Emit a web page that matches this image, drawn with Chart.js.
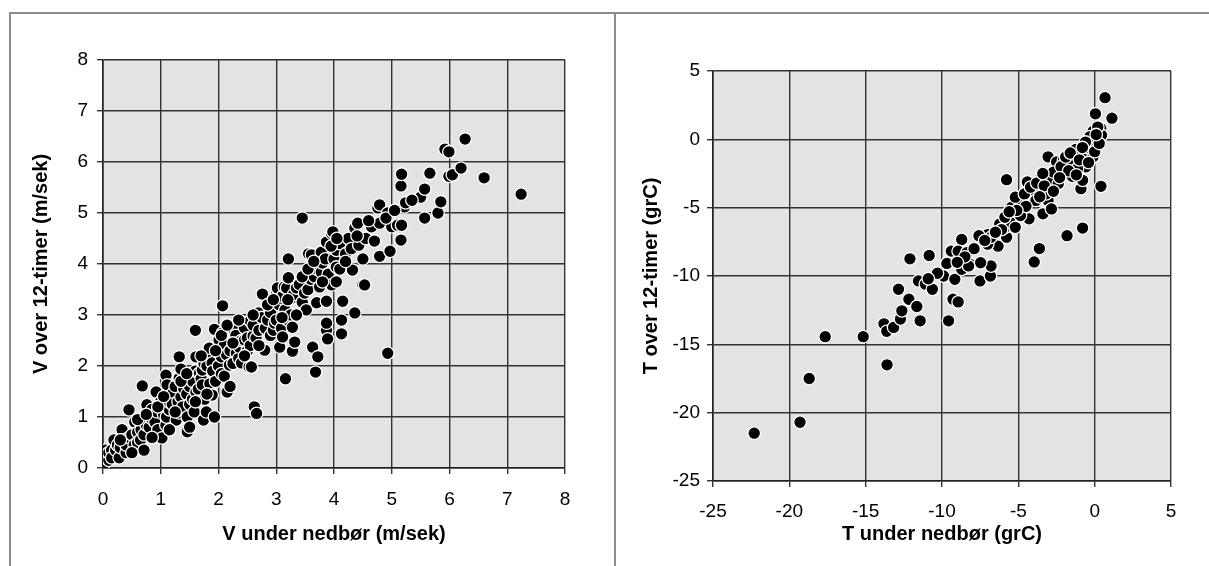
<!DOCTYPE html>
<html>
<head>
<meta charset="utf-8">
<script src="https://cdn.jsdelivr.net/npm/chart.js@4/dist/chart.umd.min.js"></script>
<style>
  html, body { margin: 0; padding: 0; background: #fff; }
  #wrap { position: relative; width: 1209px; height: 566px; overflow: hidden; }
  canvas { position: absolute; top: 0; }
  #left { left: 0; }
  #right { left: 615px; }
  .frame { position: absolute; background: #8c8c8c; }
</style>
</head>
<body>
<div id="wrap">
  <canvas id="left" width="615" height="566"></canvas>
  <canvas id="right" width="594" height="566"></canvas>
  <div class="frame" style="left:9px; top:12px; width:1200px; height:2px;"></div>
  <div class="frame" style="left:9px; top:12px; width:2px; height:554px;"></div>
  <div class="frame" style="left:614px; top:12px; width:2px; height:554px;"></div>
</div>
<script>
// Wind speed (m/sek): during precipitation vs. over 12 hours
const windUnder = [
  0.00, 0.02, 0.05, 0.10, 0.10, 0.15, 0.15, 0.19, 0.22, 0.25,
  0.28, 0.30, 0.33, 0.36, 0.40, 0.40, 0.45, 0.45, 0.50, 0.54,
  0.55, 0.60, 0.60, 0.65, 0.66, 0.68, 0.71, 0.71, 0.75, 0.76,
  0.80, 0.83, 0.85, 0.90, 0.92, 0.94, 0.95, 1.00, 1.02, 1.05,
  1.09, 1.09, 1.10, 1.11, 1.15, 1.15, 1.20, 1.20, 1.25, 1.27,
  1.30, 1.32, 1.32, 1.32, 1.35, 1.35, 1.38, 1.40, 1.45, 1.46,
  1.46, 1.50, 1.50, 1.50, 1.55, 1.55, 1.58, 1.60, 1.61, 1.60,
  1.61, 1.65, 1.67, 1.70, 1.72, 1.72, 1.74, 1.75, 1.76, 1.79,
  1.80, 1.84, 1.84, 1.85, 1.89, 1.89, 1.90, 1.93, 1.93, 1.95,
  2.00, 2.00, 2.01, 2.05, 2.05, 2.07, 2.07, 2.10, 2.10, 2.14,
  2.15, 2.19, 2.20, 2.20, 2.25, 2.26, 2.29, 2.30, 2.31, 2.35,
  2.36, 2.40, 2.40, 2.45, 2.45, 2.50, 2.50, 2.53, 2.55, 2.55,
  2.57, 2.60, 2.60, 2.62, 2.65, 2.66, 2.69, 2.70, 2.75, 2.76,
  2.80, 2.81, 2.85, 2.90, 2.90, 2.95, 2.97, 3.00, 3.00, 3.02,
  3.05, 3.06, 3.06, 3.09, 3.09, 3.11, 3.11, 3.14, 3.15, 3.16,
  3.18, 3.20, 3.21, 3.21, 3.25, 3.26, 3.28, 3.28, 3.30, 3.32,
  3.35, 3.40, 3.45, 3.45, 3.49, 3.52, 3.55, 3.56, 3.60, 3.61,
  3.61, 3.63, 3.63, 3.66, 3.68, 3.70, 3.70, 3.72, 3.75, 3.78,
  3.78, 3.80, 3.85, 3.87, 3.87, 3.87, 3.87, 3.89, 3.90, 3.96,
  3.96, 3.98, 4.00, 4.04, 4.04, 4.04, 4.10, 4.10, 4.13, 4.13,
  4.15, 4.20, 4.25, 4.30, 4.32, 4.36, 4.36, 4.41, 4.43, 4.50,
  4.53, 4.50, 4.55, 4.65, 4.76, 4.79, 4.79, 4.79, 4.93, 4.93,
  4.97, 5.00, 5.10, 5.16, 5.16, 5.17, 5.17, 5.22, 5.24, 5.50,
  5.57, 5.57, 5.66, 5.80, 5.85, 5.92, 5.99, 5.99, 6.05, 6.20,
  6.27, 6.60, 7.24,
  0.30, 0.50, 0.60, 0.75, 0.85, 0.95, 1.05, 1.15, 1.25, 1.35,
  1.45, 1.60, 1.70, 1.80, 1.95, 2.05, 2.15, 2.25, 2.35, 2.45,
  2.60, 2.70, 2.85, 2.95, 3.10, 3.20, 3.35, 3.45, 3.55, 3.65,
  3.80, 3.95, 4.05, 4.20, 4.40, 4.60, 4.70, 4.90, 5.05, 5.35
];
const windOver = [
  0.05, 0.25, 0.35, 0.15, 0.30, 0.35, 0.20, 0.55, 0.35, 0.45,
  0.20, 0.40, 0.75, 0.55, 0.30, 0.45, 0.60, 1.14, 0.65, 0.45,
  0.90, 0.70, 0.50, 0.55, 0.75, 1.61, 0.35, 0.65, 0.84, 1.24,
  0.80, 0.98, 1.15, 0.90, 1.49, 1.10, 0.75, 1.30, 0.59, 1.05,
  0.84, 1.82, 1.00, 1.63, 1.14, 1.29, 1.45, 1.25, 1.60, 0.94,
  1.30, 1.08, 1.76, 2.18, 1.39, 1.94, 1.20, 1.55, 1.45, 0.71,
  1.00, 1.25, 0.80, 1.60, 1.70, 1.35, 1.10, 1.90, 1.49, 2.70,
  2.18, 1.55, 1.86, 1.75, 1.63, 1.92, 0.94, 2.05, 1.35, 1.10,
  2.00, 2.22, 2.35, 1.65, 1.43, 2.06, 1.90, 1.00, 2.72, 1.70,
  2.30, 2.00, 2.51, 2.18, 1.85, 2.65, 3.18, 1.80, 2.40, 2.22,
  1.49, 2.02, 1.60, 2.30, 2.05, 2.72, 2.55, 2.60, 2.25, 2.15,
  2.37, 2.06, 2.50, 2.51, 2.75, 2.30, 2.55, 1.98, 2.88, 2.40,
  1.98, 2.59, 2.80, 1.20, 2.55, 1.07, 3.04, 2.70, 2.95, 3.41,
  2.31, 2.74, 2.90, 2.60, 3.05, 2.70, 2.84, 3.39, 2.90, 3.53,
  3.20, 2.41, 2.37, 2.74, 3.33, 2.57, 3.37, 3.55, 3.10, 1.75,
  3.53, 2.90, 3.73, 4.10, 3.00, 3.33, 2.29, 2.76, 3.40, 2.47,
  3.53, 3.60, 4.90, 3.25, 3.43, 3.10, 3.50, 4.20, 3.70, 3.96,
  4.18, 2.37, 3.98, 3.75, 1.88, 3.24, 3.90, 2.18, 3.55, 3.84,
  4.23, 4.02, 4.10, 2.70, 2.84, 3.27, 4.43, 2.53, 3.80, 3.59,
  4.60, 4.63, 4.10, 3.65, 3.94, 4.27, 3.90, 4.40, 2.63, 2.90,
  3.27, 4.20, 4.50, 4.30, 3.88, 3.04, 4.70, 4.80, 4.37, 3.59,
  3.59, 4.10, 4.50, 4.73, 5.10, 4.15, 4.80, 5.16, 2.25, 5.00,
  4.25, 4.73, 4.76, 4.47, 5.53, 4.76, 5.76, 5.12, 5.20, 5.31,
  4.90, 5.47, 5.78, 5.00, 5.22, 6.25, 6.20, 5.72, 5.75, 5.88,
  6.45, 5.69, 5.37,
  0.55, 0.30, 0.95, 1.05, 0.60, 1.20, 1.40, 0.75, 1.10, 1.70,
  1.85, 1.30, 2.20, 1.45, 2.30, 2.60, 2.80, 2.45, 2.90, 2.20,
  3.00, 2.40, 3.20, 3.30, 2.95, 3.30, 3.00, 3.75, 3.90, 4.05,
  3.65, 4.35, 4.50, 4.05, 4.55, 4.85, 4.45, 4.90, 5.05, 5.25
];

// Temperature (grC): during precipitation vs. over 12 hours
const tempUnder = [
  -22.3, -19.3, -18.7, -13.6, -17.65, -15.16, -13.8, -13.62, -13.17, -12.72,
  -12.63, -12.17, -11.65, -11.43, -12.85, -12.1, -10.84, -11.54, -11.09, -10.63,
  -9.9, -9.68, -9.16, -9.28, -8.94, -9.57, -8.71, -9.39, -8.94, -8.37,
  -8.14, -7.51, -6.83, -6.79, -7.47, -7.01, -6.33, -6.0,
  -8.71, -8.26, -7.58, -7.01, -6.79, -5.77, -5.88, -6.22, -5.54, -5.88,
  -5.2, -5.43, -4.86, -4.3, -4.86, -5.2, -4.41, -3.96, -3.85, -3.39,
  -3.05, -2.83, -3.17, -3.51, -2.94, -2.38, -2.04, -2.49, -3.05, -2.49,
  -2.04, -1.58, -1.47, -0.9, -0.79, -0.57, -1.13, -0.57, -1.24, -0.11,
  0.05, 1.13, 0.68, -5.77, 0.41, -0.79, -1.81, -3.62, -3.96,
  -0.2, 0.0, 0.2, 0.4, 0.3, -0.1, 0.1, -0.4, 0.45, 0.2,
  -0.3, 0.0, -0.6, 0.3, 0.1,
  -4.6, -4.2, -3.8, -3.3, -2.7, -2.2, -1.9, -1.6, -1.0, -0.8,
  -2.7, -3.6, -4.5, -5.1, -5.6, -6.1, -6.5, -7.2, -7.9, -8.5,
  -9.0, -10.3, -10.9, -1.7, -2.3, -3.4, -1.2, -0.4
];
const tempOver = [
  -21.5, -20.7, -17.5, -16.5, -14.44, -14.44, -13.5, -14.05, -13.76, -13.15,
  -12.55, -11.7, -12.23, -13.28, -10.97, -8.74, -8.5, -10.36, -10.6, -10.97,
  -10.0, -9.08, -10.24, -11.7, -11.9, -13.28, -7.33, -8.18, -8.18, -8.3,
  -9.15, -10.36, -10.0, -9.27, -9.03, -6.97, -7.82, -5.87,
  -9.51, -9.26, -7.05, -7.67, -7.17, -7.17, -6.44, -6.19, -6.07, -5.7,
  -6.44, -4.96, -4.72, -5.82, -5.58, -4.23, -3.12, -3.73, -4.47, -5.45,
  -4.47, -5.09, -3.98, -2.75, -2.95, -3.24, -2.63, -2.26, -1.28, -1.65,
  -1.52, -1.77, -2.7, -3.61, -3.0, -2.01, -2.14, -1.15, -0.74, -1.28,
  1.87, 1.55, 3.05, -2.95, -3.44, -6.49, -7.05, -7.99, -8.97,
  -0.3, 0.1, 0.5, 0.8, 0.2, 0.6, -0.5, -0.6, 0.3, 0.9,
  0.2, -0.9, -0.2, -0.3, 0.35,
  -4.0, -3.5, -3.2, -3.4, -2.4, -2.0, -1.3, -1.0, -1.5, -0.6,
  -3.8, -4.2, -4.9, -5.2, -5.3, -6.6, -6.8, -7.4, -8.0, -8.6,
  -9.0, -9.8, -10.2, -2.3, -2.8, -2.5, -2.6, -1.7
];

const windTicks = [0, 1, 2, 3, 4, 5, 6, 7, 8];
const tempTicks = [-25, -20, -15, -10, -5, 0, 5];

const FONT = "'Liberation Sans', Arial, sans-serif";

// grey plot area behind the grid
const plotFill = {
  id: 'plotFill',
  beforeDraw(chart) {
    const { ctx, chartArea: a } = chart;
    ctx.save();
    ctx.fillStyle = '#e3e3e3';
    ctx.fillRect(a.left, a.top, a.right - a.left, a.bottom - a.top);
    ctx.restore();
  }
};

function toPoints(xs, ys) {
  return xs.map((x, i) => ({ x: x, y: ys[i] }));
}

function makeChart(id, xs, ys, ticks, box) {
  const axis = (title, isX) => ({
    type: 'linear',
    min: ticks[0],
    max: ticks[ticks.length - 1],
    afterBuildTicks: s => { s.ticks = ticks.map(v => ({ value: v })); },
    afterFit: s => {
      if (isX) s.height = box.xHeight; else s.width = box.yWidth;
    },
    grid: { color: '#333', lineWidth: 1.4, tickLength: 6, drawTicks: true },
    border: { display: true, color: '#222', width: 1.6 },
    ticks: {
      color: '#000',
      font: { family: FONT, size: 19 },
      padding: isX ? box.xPad : box.yPad,
      maxRotation: 0
    },
    title: {
      display: true,
      text: title,
      color: '#000',
      font: { family: FONT, size: 20, weight: 'bold' },
      padding: isX ? { top: 0, bottom: box.xTitlePad } : { top: box.yTitlePad, bottom: 0 }
    }
  });

  return new Chart(document.getElementById(id), {
    type: 'scatter',
    data: {
      datasets: [{
        data: toPoints(xs, ys),
        backgroundColor: '#000',
        borderColor: '#fff',
        borderWidth: 1.3,
        pointRadius: 6.3,
        pointHoverRadius: 6.3
      }]
    },
    options: {
      responsive: false,
      animation: false,
      devicePixelRatio: 1,
      layout: { padding: { top: box.top, right: box.right, left: 0, bottom: 0 } },
      plugins: { legend: { display: false }, tooltip: { enabled: false } },
      scales: {
        x: axis(box.xTitle, true),
        y: axis(box.yTitle, false)
      }
    },
    plugins: [plotFill]
  });
}

makeChart('left', windUnder, windOver, windTicks, {
  top: 60, right: 50, xHeight: 98, yWidth: 103,
  xPad: 14, yPad: 9, xTitlePad: 20, yTitlePad: 29,
  xTitle: 'V under nedbør (m/sek)', yTitle: 'V over 12-timer (m/sek)'
});

makeChart('right', tempUnder, tempOver, tempTicks, {
  top: 71, right: 38, xHeight: 85, yWidth: 98,
  xPad: 13, yPad: 7, xTitlePad: 20, yTitlePad: 24,
  xTitle: 'T under nedbør (grC)', yTitle: 'T over 12-timer (grC)'
});
</script>
</body>
</html>
